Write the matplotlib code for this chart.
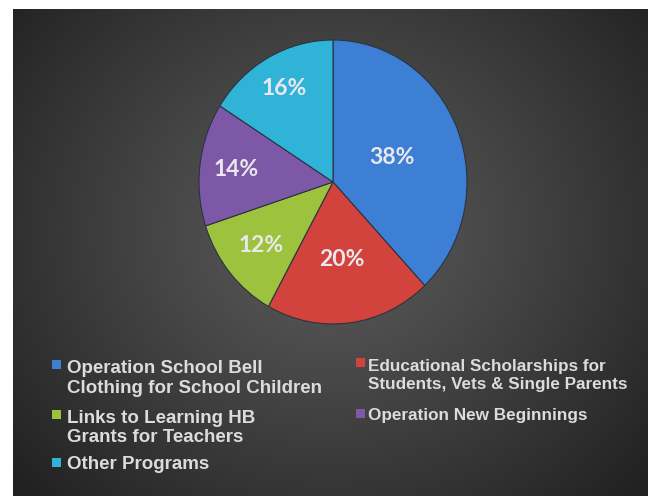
import numpy as np
import matplotlib
matplotlib.use("Agg")
import matplotlib.pyplot as plt
from matplotlib.patches import Rectangle

# ---- data ----
categories = ["Operation School Bell\nClothing for School Children",
              "Educational Scholarships for\nStudents, Vets & Single Parents",
              "Links to Learning HB\nGrants for Teachers",
              "Operation New Beginnings",
              "Other Programs"]
shares = [38, 20, 12, 14, 16]
pct_labels = ["38%", "20%", "12%", "14%", "16%"]
colors = ["#3D7FD4", "#D2433D", "#9CC23E", "#7C58A6", "#2FB4D8"]

W, H = 648, 496
fig = plt.figure(figsize=(W / 100, H / 100), dpi=100)
fig.patch.set_facecolor("white")

# ---- background radial gradient ----
bg = fig.add_axes([13 / W, 0, (W - 13) / W, (H - 9) / H])
ys, xs = np.mgrid[9:H, 13:W]
d = np.hypot(xs - 330.0, (ys - 230.0) * 1.1)
t = np.clip(d / 420.0, 0, 1)
v = (0x5c - (0x5c - 0x21) * t ** 1.1) / 255.0
bg.imshow(np.dstack([v, v, v]), aspect="auto", extent=[0, 1, 0, 1], origin="upper")
bg.axis("off")

# ---- pie ----
cx, cy, rx, ry = 333, 182, 134, 142
pax = fig.add_axes([(cx - rx) / W, (H - cy - ry) / H, 2 * rx / W, 2 * ry / H])
wedges, _ = pax.pie(shares, colors=colors, startangle=90, counterclock=False,
                    radius=1.0, wedgeprops=dict(edgecolor="#2b3340", linewidth=0.8))
pax.set_aspect("auto")
pax.set_xlim(-1, 1)
pax.set_ylim(-1, 1)
pax.axis("off")

label_r = [0.47, 0.55, 0.70, 0.73, 0.75]
for w, lab, r in zip(wedges, pct_labels, label_r):
    ang = np.deg2rad((w.theta1 + w.theta2) / 2)
    pax.text(r * np.cos(ang), r * np.sin(ang), lab, ha="center", va="center",
             fontsize=16.5, fontweight="bold", family=["Lato", "DejaVu Sans"],
             color="#EAE8EE")

# ---- legend (manual layout) ----
# order in picture: row-major, two columns
leg_x = [56, 361, 56, 361, 56]          # marker centres (px)
leg_base = [371, 369, 421, 420, 469]     # first-line baselines (px)
leg_fs = [13.5, 12.3, 13.5, 12.3, 13.5]
leg_step = [22, 20, 21, 20, 21]
for lab, col, mx, by, fs, st in zip(categories, colors, leg_x, leg_base, leg_fs, leg_step):
    s = 9
    fig.add_artist(Rectangle(((mx - s / 2) / W, (H - (by - 7) - s / 2) / H), s / W, s / H,
                             transform=fig.transFigure, facecolor=col,
                             edgecolor="none"))
    nl = lab.count("\n")
    fig.text((mx + 11 if mx < 200 else mx + 7) / W, (H - by - nl * st) / H, lab,
             ha="left", va="baseline",
             fontsize=fs, fontweight="bold", family=["Liberation Sans", "DejaVu Sans"],
             color="#DCDCDC", linespacing=st / (fs * 100 / 72 * 0.94) / 1.0)

fig.savefig("out.png", dpi=100, facecolor=fig.get_facecolor())
